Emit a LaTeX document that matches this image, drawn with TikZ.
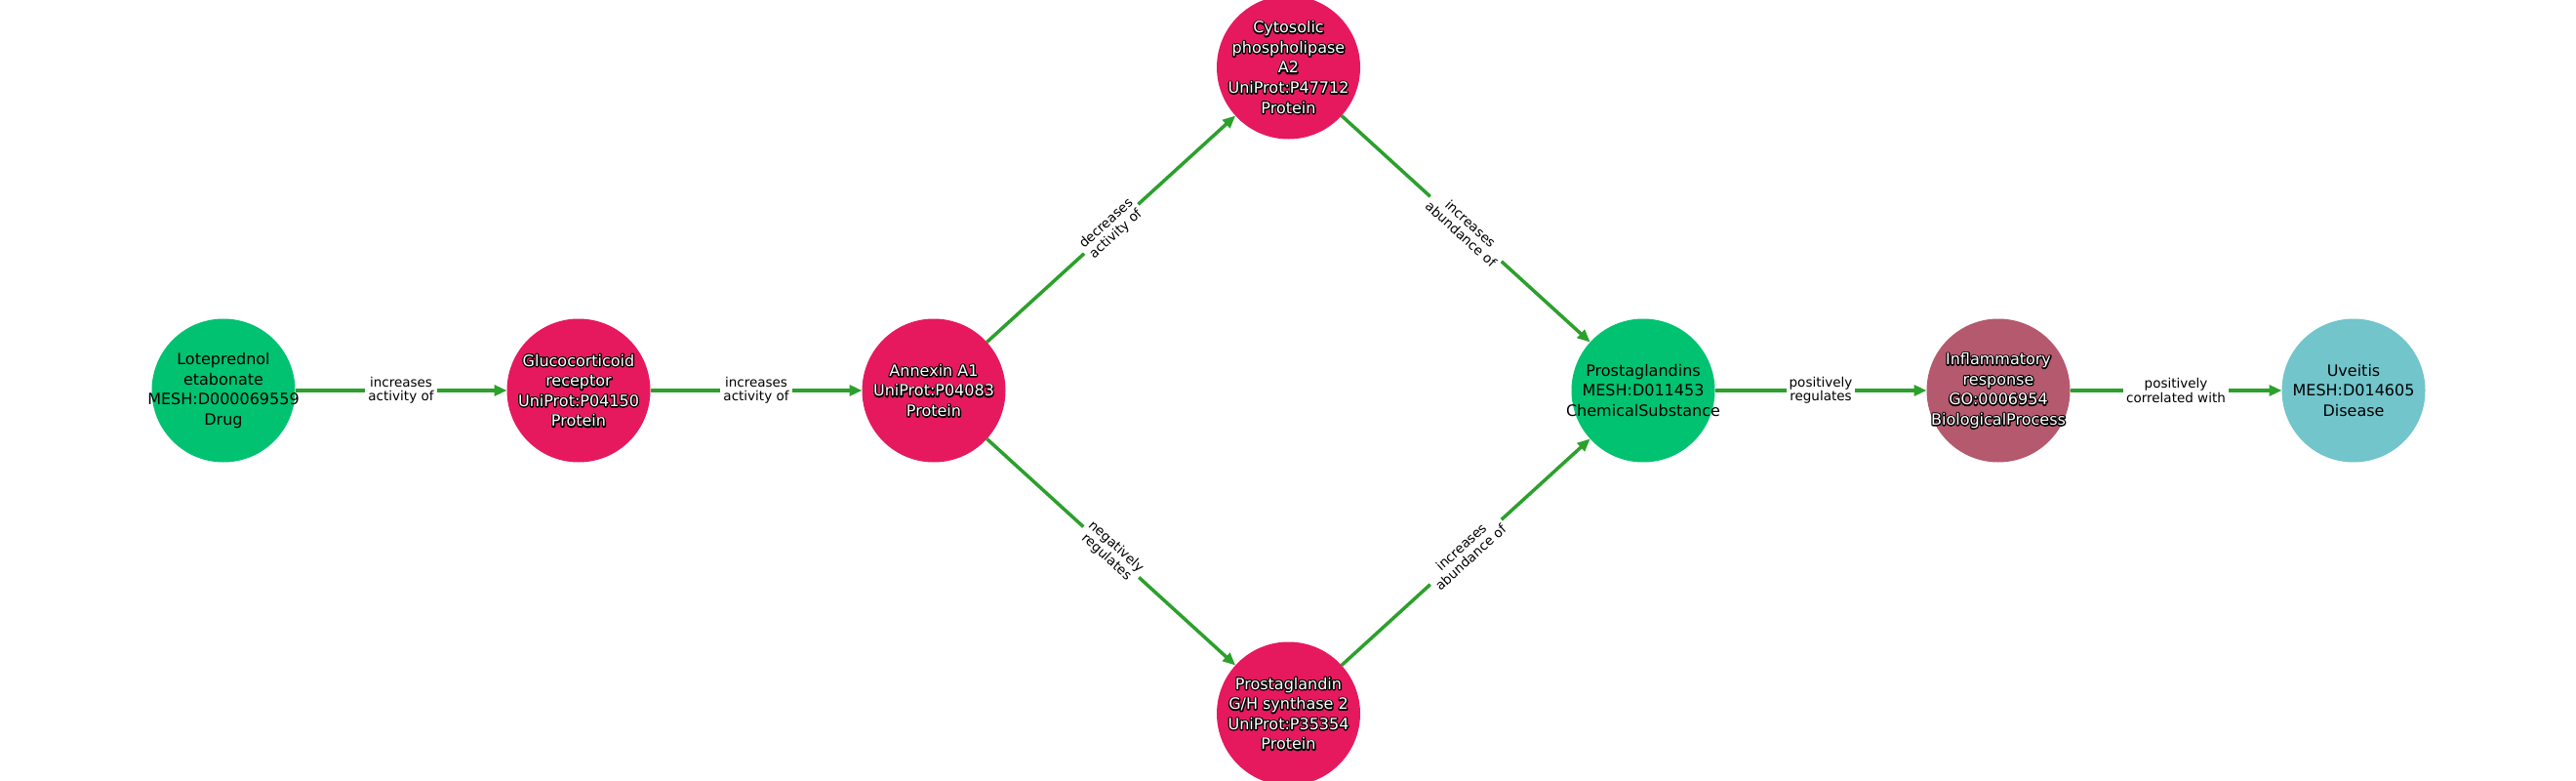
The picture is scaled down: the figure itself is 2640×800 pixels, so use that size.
\documentclass[tikz,border=0pt]{standalone}
\usepackage{fontspec}
\setmainfont{DejaVu Sans}
\usetikzlibrary{arrows.meta}
\definecolor{cgreen}{HTML}{00C270}
\definecolor{cpink}{HTML}{E6195F}
\definecolor{cmauve}{HTML}{B5596F}
\definecolor{ccyan}{HTML}{71C5CB}
\definecolor{egreen}{HTML}{2CA02C}
\newcommand\outl[1]{\leavevmode\rlap{\special{pdf:literal direct 1 Tr 0 G 2.6 w 1 j 1 J}#1\special{pdf:literal direct 0 Tr}}#1}
\begin{document}
\begin{tikzpicture}[x=1pt,y=-1pt,
  ent/.style={circle, minimum size=147pt, inner sep=0pt, outer sep=0pt, draw=none, fill=#1},
  ntext/.style={align=center, font=\fontsize{16}{20.6}\selectfont, inner sep=0pt, text=black},
  otext/.style={ntext, text=white},
  edge/.style={draw=egreen, line width=3.5pt, -{Triangle[length=13pt,width=11pt]}},
  elabel/.style={fill=white, inner sep=3pt, align=center, font=\fontsize{13.5}{14.5}\selectfont, sloped, text=black}
]
\useasboundingbox (0,0) rectangle (2640,800);
% circles
\node[ent=cgreen] (lot) at (229,400) {};
\node[ent=cpink]  (gr)  at (593,400) {};
\node[ent=cpink]  (anx) at (957,400) {};
\node[ent=cpink]  (cpl) at (1320.5,69) {};
\node[ent=cpink]  (pgh) at (1320.5,731) {};
\node[ent=cgreen] (pgs) at (1684,400) {};
\node[ent=cmauve] (inf) at (2048,400) {};
\node[ent=ccyan]  (uve) at (2412,400) {};
% texts
\node[ntext] (lott) at (lot) {Loteprednol\\etabonate\\MESH:D000069559\\Drug};
\node[otext] (grt) at (gr) {\outl{Glucocorticoid}\\\outl{receptor}\\\outl{UniProt:P04150}\\\outl{Protein}};
\node[otext] (anxt) at (anx) {\outl{Annexin A1}\\\outl{UniProt:P04083}\\\outl{Protein}};
\node[otext] (cplt) at (cpl) {\outl{Cytosolic}\\\outl{phospholipase}\\\outl{A2}\\\outl{UniProt:P47712}\\\outl{Protein}};
\node[otext] (pght) at (pgh) {\outl{Prostaglandin}\\\outl{G/H synthase 2}\\\outl{UniProt:P35354}\\\outl{Protein}};
\node[ntext] (pgst) at (pgs) {Prostaglandins\\MESH:D011453\\ChemicalSubstance};
\node[otext] (inft) at (inf) {\outl{Inflammatory}\\\outl{response}\\\outl{GO:0006954}\\\outl{BiologicalProcess}};
\node[ntext] (uvet) at (uve) {Uveitis\\MESH:D014605\\Disease};
% edges
\draw[edge] (lot) -- node[elabel] (l1) {increases\\activity of} (gr);
\draw[edge] (gr) -- node[elabel] (l2) {increases\\activity of} (anx);
\draw[edge] (anx) -- node[elabel] (l3) {decreases\\activity of} (cpl);
\draw[edge] (anx) -- node[elabel] (l4) {negatively\\regulates} (pgh);
\draw[edge] (cpl) -- node[elabel] (l5) {increases\\abundance of} (pgs);
\draw[edge] (pgh) -- node[elabel] (l6) {increases\\abundance of} (pgs);
\draw[edge] (pgs) -- node[elabel] (l7) {positively\\regulates} (inf);
\draw[edge] (inf) -- node[elabel] (l8) {positively\\correlated with} (uve);
\end{tikzpicture}
\end{document}
